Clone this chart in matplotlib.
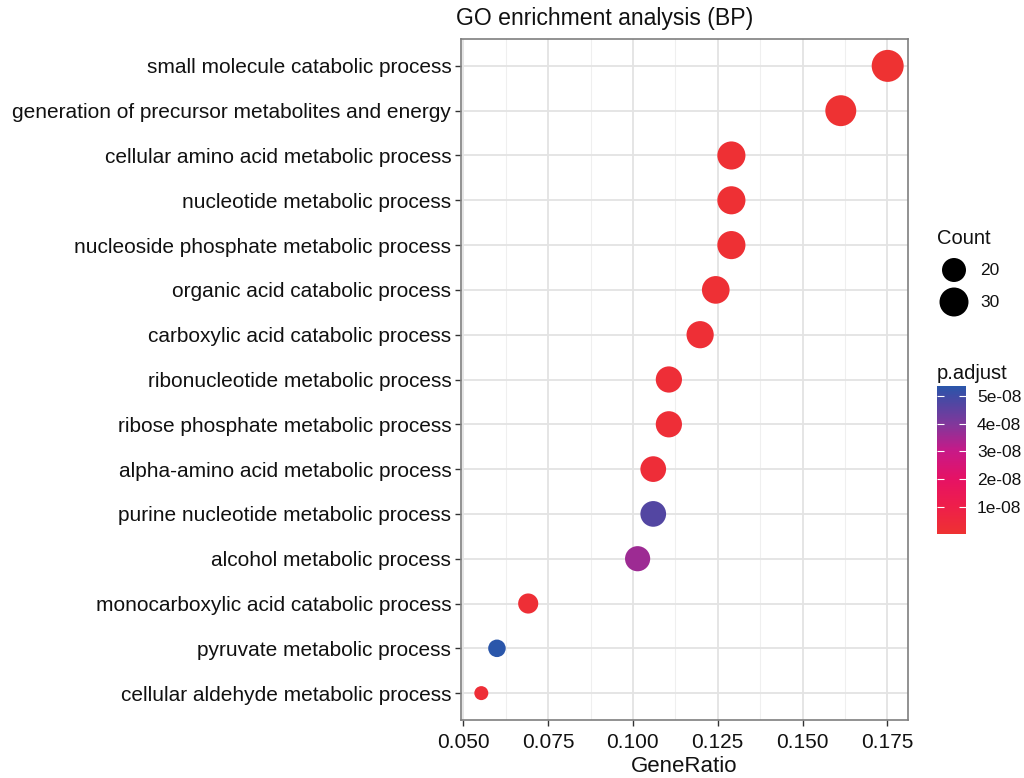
import numpy as np
import matplotlib
matplotlib.use("Agg")
import matplotlib.pyplot as plt
from matplotlib.colors import LinearSegmentedColormap, Normalize
from matplotlib.cm import ScalarMappable

plt.rcParams['font.family'] = ['Liberation Sans', 'DejaVu Sans']

# GO terms, top to bottom
terms = [
    "small molecule catabolic process",
    "generation of precursor metabolites and energy",
    "cellular amino acid metabolic process",
    "nucleotide metabolic process",
    "nucleoside phosphate metabolic process",
    "organic acid catabolic process",
    "carboxylic acid catabolic process",
    "ribonucleotide metabolic process",
    "ribose phosphate metabolic process",
    "alpha-amino acid metabolic process",
    "purine nucleotide metabolic process",
    "alcohol metabolic process",
    "monocarboxylic acid catabolic process",
    "pyruvate metabolic process",
    "cellular aldehyde metabolic process",
]
counts = [38, 35, 28, 28, 28, 27, 26, 24, 24, 23, 23, 22, 15, 13, 12]
total_genes = 217
gene_ratio = [c / total_genes for c in counts]
p_adjust = [2.0e-10, 6.0e-10, 1.2e-09, 1.2e-09, 1.2e-09, 1.5e-09, 1.8e-09,
            2.2e-09, 2.2e-09, 2.6e-09, 4.7e-08, 3.6e-08, 1.9e-09, 5.36e-08, 2.4e-09]

xticks = [0.050, 0.075, 0.100, 0.125, 0.150, 0.175]
cbar_ticks = [1e-08, 2e-08, 3e-08, 4e-08, 5e-08]
size_breaks = [20, 30]

W, H, DPI = 1024, 778, 100

# red (low) -> magenta -> blue (high) gradient
grad_pos = [0.0, 0.19, 0.37, 0.56, 0.74, 0.93, 1.0]
grad_rgb = [(238, 50, 50), (238, 30, 75), (230, 18, 100), (200, 25, 135),
            (130, 55, 155), (65, 75, 165), (42, 86, 170)]
cmap = LinearSegmentedColormap.from_list(
    "padj", [(p, tuple(v / 255 for v in c)) for p, c in zip(grad_pos, grad_rgb)])
norm = Normalize(vmin=min(p_adjust), vmax=max(p_adjust))

# point diameter in pixels (area scaling between count limits)
cmin, cmax = min(counts), max(counts)
dmin_px, dmax_px = 14.0, 32.0


def marker_area(c):
    d = dmin_px + (dmax_px - dmin_px) * np.sqrt((np.asarray(c, float) - cmin) / (cmax - cmin))
    return (d * 72.0 / DPI) ** 2


fig = plt.figure(figsize=(W / DPI, H / DPI), dpi=DPI)


def px_axes(x0, y0, x1, y1):
    return fig.add_axes([x0 / W, 1 - y1 / H, (x1 - x0) / W, (y1 - y0) / H])


ax = px_axes(461, 39, 908, 720)
n = len(terms)
ypos = np.arange(n, 0, -1)
ax.scatter(gene_ratio, ypos, s=marker_area(counts), c=p_adjust, cmap=cmap,
           norm=norm, edgecolors='none', zorder=3)

xr = max(gene_ratio) - min(gene_ratio)
ax.set_yticks(ypos)
ax.set_yticklabels(terms)
ax.set_xticks(xticks)
ax.set_xticklabels([f"{v:.3f}" for v in xticks])
ax.set_xticks([v + 0.0125 for v in [0.0375] + xticks], minor=True)
ax.set_xlim(min(gene_ratio) - 0.05 * xr, max(gene_ratio) + 0.05 * xr)
ax.set_ylim(0.4, n + 0.6)

ax.grid(True, which='major', color='#E3E3E3', linewidth=1.3, zorder=0)
ax.grid(True, which='minor', axis='x', color='#EFEFEF', linewidth=0.8, zorder=0)
ax.set_axisbelow(True)
for sp in ax.spines.values():
    sp.set_color('#7F7F7F')
    sp.set_linewidth(1.2)
ax.tick_params(axis='both', which='major', colors='#333333', length=4, width=1.0,
               labelsize=15, labelcolor='#111111', pad=3)
ax.tick_params(axis='x', which='major', pad=5)
ax.tick_params(axis='x', which='minor', length=0)
ax.set_xlabel("GeneRatio", fontsize=16, color='#111111', labelpad=3)
ax.set_title("GO enrichment analysis (BP)", loc='left', fontsize=16.6,
             color='#111111', pad=10, x=-0.012)

# size legend
lax = fig.add_axes([0, 0, 1, 1])
lax.set_xlim(0, W)
lax.set_ylim(H, 0)
lax.axis('off')
lax.text(937, 238, "Count", fontsize=14.5, va='center', ha='left', color='#111111')
for yb, c in zip([270, 302], size_breaks):
    lax.scatter([954], [yb], s=marker_area(c), color='black', edgecolors='none')
    lax.text(980, yb, str(c), fontsize=12.5, va='center', ha='left', color='#111111')
lax.text(937, 373, "p.adjust", fontsize=14.5, va='center', ha='left', color='#111111')

# colour bar
cax = px_axes(937, 386, 966, 534)
cb = fig.colorbar(ScalarMappable(norm=norm, cmap=cmap), cax=cax)
cb.outline.set_visible(False)
cb.set_ticks(cbar_ticks)
cb.set_ticklabels([f"{int(round(t * 1e8))}e-08" for t in cbar_ticks])
cax.tick_params(axis='y', which='both', direction='in', color='white', length=5,
                width=0.8, left=True, right=True, labelsize=12.5,
                labelcolor='#111111', pad=8)
cax.yaxis.set_tick_params(which='minor', length=0)

fig.savefig("out.png", dpi=DPI, facecolor='white')
